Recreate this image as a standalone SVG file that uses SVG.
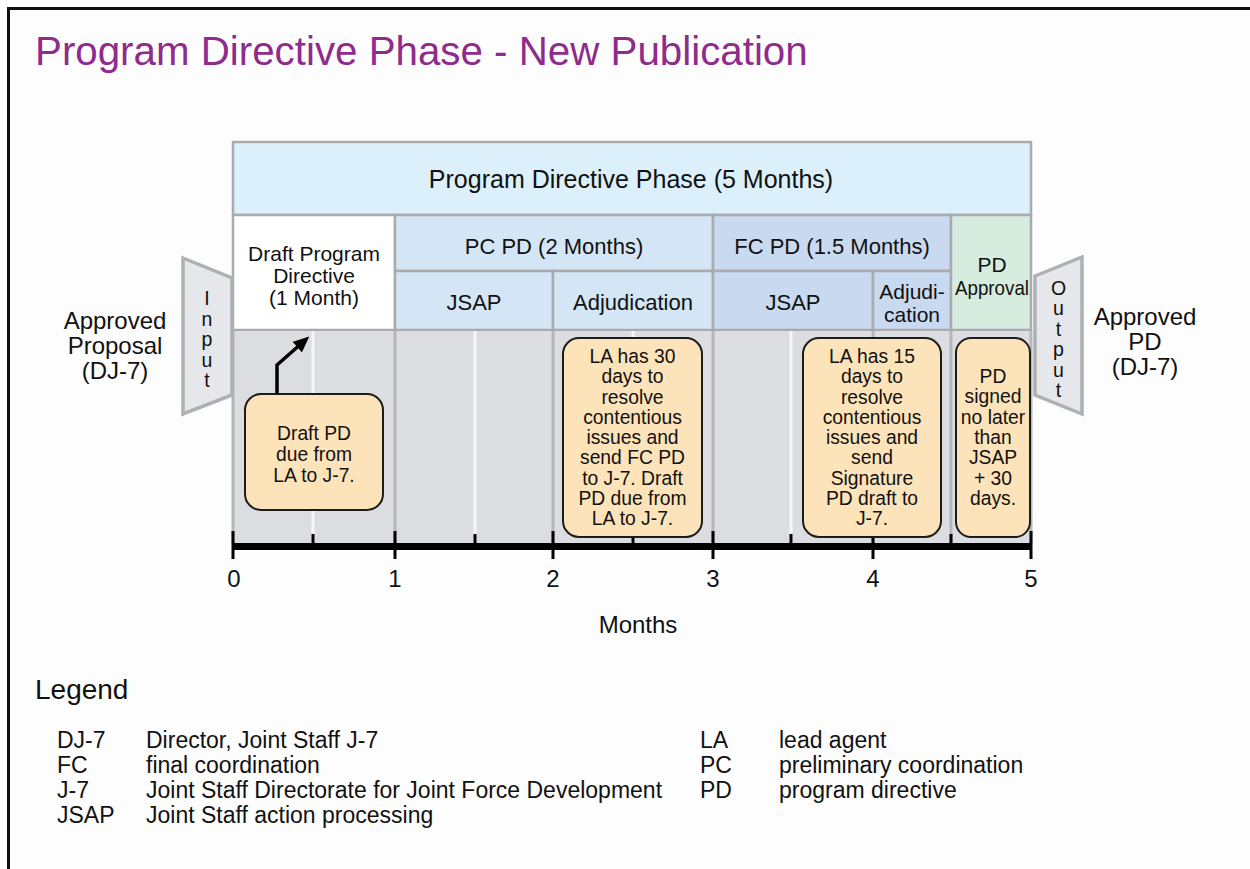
<svg xmlns="http://www.w3.org/2000/svg" width="1250" height="869" viewBox="0 0 1250 869">
<defs>
<style>
text{font-family:"Liberation Sans",Arial,Helvetica,sans-serif;fill:#111}
.c{text-anchor:middle}
.cell{stroke:#a9abae;stroke-width:2.5}
.callout{fill:#fde3b9;stroke:#1c1c1c;stroke-width:2}
.io{fill:#e6e7ea;stroke:#afb0b4;stroke-width:3.5;stroke-linejoin:miter}
.mline{stroke:#b5b6b9;stroke-width:3}
.hline{stroke:#f6f6f6;stroke-width:3}
.tick{stroke:#000;stroke-width:3}
.h{font-size:22px}
.h2{font-size:21px}
.b{font-size:19.3px}
.lg{font-size:23px}
.v{font-size:19.5px}
</style>
<marker id="ah" viewBox="0 0 16 14" refX="1" refY="7" markerWidth="16" markerHeight="14" markerUnits="userSpaceOnUse" orient="auto">
<path d="M0,0 L16,7 L0,14 z" fill="#000"/>
</marker>
</defs>
<rect width="1250" height="869" fill="#ffffff"/>
<rect x="9" y="9" width="1241" height="860" fill="#fdfdfd"/>
<path d="M8.5,869 V8.5 H1250" fill="none" stroke="#111" stroke-width="3"/>

<text id="title" x="35" y="65" font-size="40.3" style="fill:#8f2b8d">Program Directive Phase - New Publication</text>

<g id="phase-header">
<rect class="cell" x="233" y="142" width="798" height="73" fill="#dcf0fb"/>
<text class="c" x="631" y="188" font-size="25">Program Directive Phase (5 Months)</text>
</g>
<g id="draft-cell">
<rect class="cell" x="233" y="215" width="162" height="115" fill="#ffffff"/>
<text class="c h2" x="314" y="261">Draft Program</text>
<text class="c h2" x="314" y="283">Directive</text>
<text class="c h2" x="314" y="305">(1 Month)</text>
</g>
<g id="pc-pd">
<rect class="cell" x="395" y="215" width="318" height="56" fill="#d4e6f6"/>
<text class="c h" x="554" y="254">PC PD (2 Months)</text>
</g>
<g id="pc-jsap">
<rect class="cell" x="395" y="271" width="158" height="59" fill="#d4e6f6"/>
<text class="c h" x="474" y="310">JSAP</text>
</g>
<g id="pc-adjudication">
<rect class="cell" x="553" y="271" width="160" height="59" fill="#d4e6f6"/>
<text class="c h" x="633" y="310">Adjudication</text>
</g>
<g id="fc-pd">
<rect class="cell" x="713" y="215" width="238" height="56" fill="#c9d9ef"/>
<text class="c h" x="832" y="254">FC PD (1.5 Months)</text>
</g>
<g id="fc-jsap">
<rect class="cell" x="713" y="271" width="160" height="59" fill="#c9d9ef"/>
<text class="c h" x="793" y="310">JSAP</text>
</g>
<g id="fc-adjudication">
<rect class="cell" x="873" y="271" width="78" height="59" fill="#c9d9ef"/>
<text class="c h2" x="912" y="299">Adjudi-</text>
<text class="c h2" x="912" y="322">cation</text>
</g>
<g id="pd-approval">
<rect class="cell" x="951" y="215" width="80" height="115" fill="#d6ecdf"/>
<text class="c" x="992" y="272" font-size="21">PD</text>
<text class="c" x="992" y="295" font-size="21" textLength="74" lengthAdjust="spacingAndGlyphs">Approval</text>
</g>

<g id="timeline-area">
<rect x="233" y="331" width="798" height="213" fill="#dcdde0"/>
<line class="hline" x1="313" y1="331" x2="313" y2="543"/>
<line class="hline" x1="475" y1="331" x2="475" y2="543"/>
<line class="hline" x1="633" y1="331" x2="633" y2="543"/>
<line class="hline" x1="791" y1="331" x2="791" y2="543"/>
<line class="mline" x1="233" y1="331" x2="233" y2="543"/>
<line class="mline" x1="395" y1="331" x2="395" y2="543"/>
<line class="mline" x1="553" y1="331" x2="553" y2="543"/>
<line class="mline" x1="713" y1="331" x2="713" y2="543"/>
<line class="mline" x1="873" y1="331" x2="873" y2="543"/>
<line class="mline" x1="951" y1="331" x2="951" y2="543"/>
<line class="mline" x1="1031" y1="331" x2="1031" y2="543"/>
</g>

<g id="axis">
<line x1="233" y1="546.5" x2="1031" y2="546.5" stroke="#000" stroke-width="7"/>
<line class="tick" x1="233" y1="531" x2="233" y2="559"/>
<line class="tick" x1="395" y1="531" x2="395" y2="559"/>
<line class="tick" x1="553" y1="531" x2="553" y2="559"/>
<line class="tick" x1="713" y1="531" x2="713" y2="559"/>
<line class="tick" x1="873" y1="531" x2="873" y2="559"/>
<line class="tick" x1="1031" y1="531" x2="1031" y2="559"/>
<line class="tick" x1="313" y1="534" x2="313" y2="547"/>
<line class="tick" x1="475" y1="534" x2="475" y2="547"/>
<line class="tick" x1="633" y1="534" x2="633" y2="547"/>
<line class="tick" x1="791" y1="534" x2="791" y2="547"/>
<line class="tick" x1="951" y1="534" x2="951" y2="547"/>
<text class="c" x="234" y="587" font-size="24">0</text>
<text class="c" x="395" y="587" font-size="24">1</text>
<text class="c" x="553" y="587" font-size="24">2</text>
<text class="c" x="713" y="587" font-size="24">3</text>
<text class="c" x="873" y="587" font-size="24">4</text>
<text class="c" x="1031" y="587" font-size="24">5</text>
<text class="c" x="638" y="633" font-size="24">Months</text>
</g>

<g id="input">
<polygon class="io" points="183,258 232,278 232,395 183,414"/>
<text class="c v" x="207" y="305">I</text>
<text class="c v" x="207" y="325.5">n</text>
<text class="c v" x="207" y="346">p</text>
<text class="c v" x="207" y="366.5">u</text>
<text class="c v" x="207" y="387">t</text>
</g>
<g id="approved-proposal">
<text class="c" x="115" y="329" font-size="24">Approved</text>
<text class="c" x="115" y="354" font-size="24">Proposal</text>
<text class="c" x="115" y="379" font-size="24">(DJ-7)</text>
</g>
<g id="output">
<polygon class="io" points="1035,276 1082,257 1082,414 1035,395"/>
<text class="c v" x="1058.5" y="295">O</text>
<text class="c v" x="1058.5" y="315.4">u</text>
<text class="c v" x="1058.5" y="335.8">t</text>
<text class="c v" x="1058.5" y="356.2">p</text>
<text class="c v" x="1058.5" y="376.6">u</text>
<text class="c v" x="1058.5" y="397">t</text>
</g>
<g id="approved-pd">
<text class="c" x="1145" y="325" font-size="24">Approved</text>
<text class="c" x="1145" y="350" font-size="24">PD</text>
<text class="c" x="1145" y="375" font-size="24">(DJ-7)</text>
</g>

<g id="callout-draft">
<rect class="callout" x="245" y="394" width="138" height="116" rx="16"/>
<text class="c b" x="314" y="440">Draft PD</text>
<text class="c b" x="314" y="461">due from</text>
<text class="c b" x="314" y="482">LA to J-7.</text>
</g>
<g id="callout-pc">
<rect class="callout" x="563" y="338" width="139" height="199" rx="16"/>
<text class="c b" x="632.5" y="363">LA has 30</text>
<text class="c b" x="632.5" y="383.25">days to</text>
<text class="c b" x="632.5" y="403.5">resolve</text>
<text class="c b" x="632.5" y="423.75">contentious</text>
<text class="c b" x="632.5" y="444">issues and</text>
<text class="c b" x="632.5" y="464.25">send FC PD</text>
<text class="c b" x="632.5" y="484.5">to J-7. Draft</text>
<text class="c b" x="632.5" y="504.75">PD due from</text>
<text class="c b" x="632.5" y="525">LA to J-7.</text>
</g>
<g id="callout-fc">
<rect class="callout" x="803" y="338" width="138" height="199" rx="16"/>
<text class="c b" x="872" y="363">LA has 15</text>
<text class="c b" x="872" y="383.25">days to</text>
<text class="c b" x="872" y="403.5">resolve</text>
<text class="c b" x="872" y="423.75">contentious</text>
<text class="c b" x="872" y="444">issues and</text>
<text class="c b" x="872" y="464.25">send</text>
<text class="c b" x="872" y="484.5">Signature</text>
<text class="c b" x="872" y="504.75">PD draft to</text>
<text class="c b" x="872" y="525">J-7.</text>
</g>
<g id="callout-approval">
<rect class="callout" x="956" y="338" width="74" height="199" rx="15"/>
<text class="c b" x="993" y="383">PD</text>
<text class="c b" x="993" y="403.3">signed</text>
<text class="c b" x="993" y="423.6">no later</text>
<text class="c b" x="993" y="443.9">than</text>
<text class="c b" x="993" y="464.2">JSAP</text>
<text class="c b" x="993" y="484.5">+ 30</text>
<text class="c b" x="993" y="504.8">days.</text>
</g>

<g id="connectors">
<path d="M277,394 V365 L298,346.5" fill="none" stroke="#000" stroke-width="3.5" marker-end="url(#ah)"/>
</g>

<g id="legend">
<text x="35" y="699" font-size="28">Legend</text>
<text class="lg" x="57" y="748">DJ-7</text>
<text class="lg" x="146" y="748">Director, Joint Staff J-7</text>
<text class="lg" x="57" y="773">FC</text>
<text class="lg" x="146" y="773">final coordination</text>
<text class="lg" x="57" y="798">J-7</text>
<text class="lg" x="146" y="798">Joint Staff Directorate for Joint Force Development</text>
<text class="lg" x="57" y="823">JSAP</text>
<text class="lg" x="146" y="823">Joint Staff action processing</text>
<text class="lg" x="700" y="748">LA</text>
<text class="lg" x="779" y="748">lead agent</text>
<text class="lg" x="700" y="773">PC</text>
<text class="lg" x="779" y="773">preliminary coordination</text>
<text class="lg" x="700" y="798">PD</text>
<text class="lg" x="779" y="798">program directive</text>
</g>
</svg>
